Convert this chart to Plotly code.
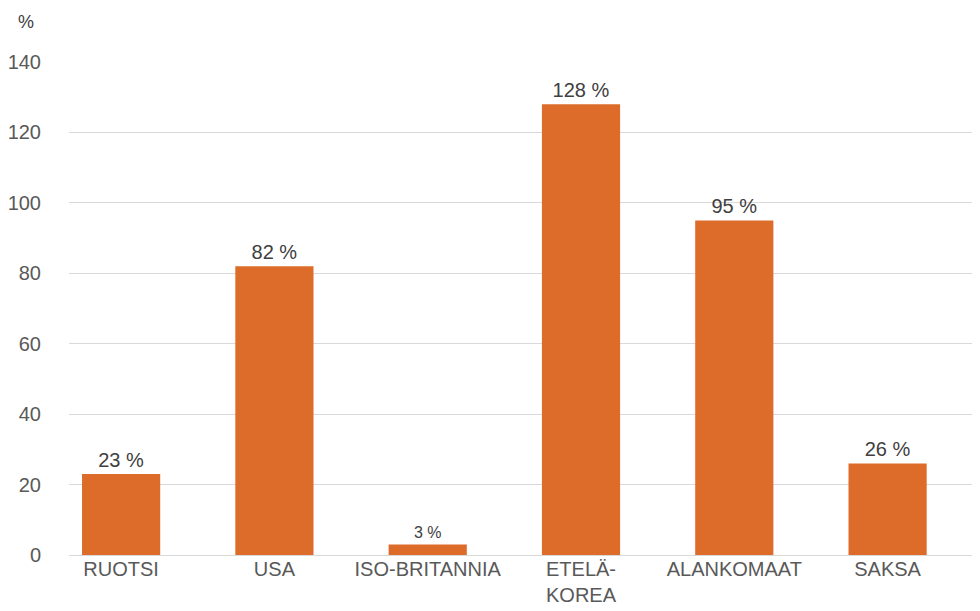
import plotly.graph_objects as go

categories = ["RUOTSI", "USA", "ISO-BRITANNIA", "ETELÄ-<br>KOREA", "ALANKOMAAT", "SAKSA"]
values = [23, 82, 3, 128, 95, 26]
value_labels = ["23 %", "82 %", "3 %", "128 %", "95 %", "26 %"]
label_sizes = [20, 20, 16, 20, 20, 20]
y_ticks = [0, 20, 40, 60, 80, 100, 120, 140]

fig = go.Figure(go.Bar(
    x=list(range(len(categories))),
    y=values,
    text=value_labels,
    textposition="outside",
    textfont=dict(size=label_sizes, color="#404040", family="Liberation Sans, Arial, sans-serif"),
    marker=dict(color="#DD6B2A", line=dict(width=0)),
    width=0.51,
    cliponaxis=False,
))

fig.update_layout(
    width=980, height=611,
    margin=dict(l=59, r=0, t=54, b=64),
    plot_bgcolor="white", paper_bgcolor="white",
    font=dict(family="Liberation Sans, Arial, sans-serif", color="#595959", size=20),
    showlegend=False,
    xaxis=dict(
        range=[-0.34, 5.655],
        tickmode="array",
        tickvals=list(range(len(categories))),
        ticktext=categories,
        showgrid=False, zeroline=False, showline=False,
        ticks="", tickfont=dict(size=20, color="#595959"),
    ),
    yaxis=dict(
        range=[0, 140],
        tickmode="array", tickvals=y_ticks,
        showgrid=True, gridcolor="#D9D9D9", gridwidth=1,
        zeroline=True, zerolinecolor="#D9D9D9", zerolinewidth=1,
        showline=False, ticks="",
        tickfont=dict(size=20, color="#595959"),
        ticklabelstandoff=27,
    ),
    annotations=[dict(
        text="%", xref="paper", yref="paper", x=-0.058, y=1.0, yshift=28,
        xanchor="left", yanchor="bottom", showarrow=False,
        font=dict(size=18, color="#404040"),
    )],
)

fig.write_html("out.html")
